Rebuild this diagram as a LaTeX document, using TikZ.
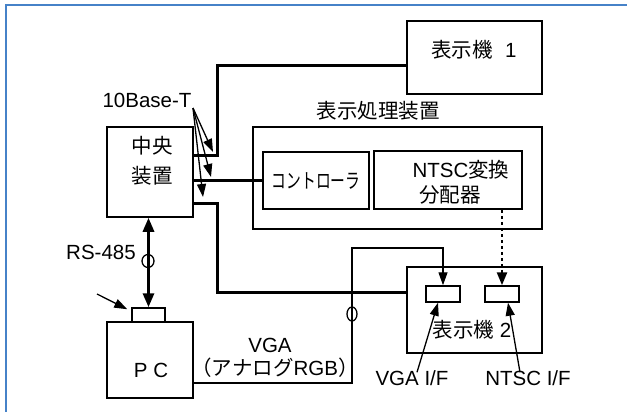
\documentclass[tikz,border=0pt]{standalone}
\usepackage{fontspec}
\setmainfont{Liberation Sans}
\newfontfamily\cjk{Noto Sans CJK JP}
\newcommand{\J}[1]{{\cjk #1}}
\usetikzlibrary{arrows.meta,calc,shapes.geometric}
\definecolor{framecol}{RGB}{70,130,200}
\begin{document}
\begin{tikzpicture}[x=1pt,y=-1pt,
  every node/.style={font=\fontsize{20.5}{25}\selectfont, inner sep=0pt},
  box/.style={draw, line width=1.5pt, inner sep=0pt},
  bus/.style={line width=3pt},
  cable/.style={line width=1.3pt},
  tipA/.style={-{Triangle[length=13pt,width=9pt]}},
  ring/.style={draw, ellipse, line width=1.3pt, inner sep=0pt}
]
\useasboundingbox (0,0) rectangle (627,412);
\draw[framecol, line width=2pt] (5.5,412) -- (5.5,5.5) -- (627,5.5);

% boxes
\node[box, minimum width=86pt, minimum height=90pt] (cpu) at (150,172) {};
\node[align=center, font=\fontsize{20.5}{30}\selectfont] (cputxt) at (152,161) {\J{中央}\\\J{装置}};
\node[box, minimum width=135pt, minimum height=73pt] (disp1) at (474.5,57.5) {};
\node (disp1txt) at (474,50) {\J{表示機}\hspace{0.6em}1};
\node[box, minimum width=289pt, minimum height=102pt] (proc) at (397.5,178) {};
\node (proctxt) at (378,111) {\J{表示処理装置}};
\node[box, minimum width=106pt, minimum height=57pt] (ctrl) at (316,180.5) {\scalebox{0.72}[1]{\J{コントローラ}}};
\node[box, minimum width=148pt, minimum height=58pt] (ntsc) at (448,180) {};
\node[align=center] (ntsctxt) at (450,182.5) {\hspace*{22pt}NTSC\J{変換}\\\J{分配器}};
\node[box, minimum width=135pt, minimum height=86pt] (disp2) at (474.5,310) {};
\node (disp2txt) at (472,330) {\J{表示機} 2};
\node[box, minimum width=34pt, minimum height=16pt] (vgaport) at (443,294) {};
\node[box, minimum width=34pt, minimum height=16pt] (ntscport) at (502,294) {};
\node[box, minimum width=86pt, minimum height=76pt] (pc) at (150,360) {};
\node (pctxt) at (151,370) {P C};
\node[box, minimum width=33pt, minimum height=14pt] (pcport) at (148.5,315) {};

% labels
\node (tenbase) at (147,100) {10Base-T};
\node (rs) at (101,252) {RS-485};
\node (vga) at (270,345) {VGA};
\node (analog) at (275,368) {\J{（アナログ}RGB\J{）}};
\node (vgaif) at (412,378) {VGA I/F};
\node (ntscif) at (528,378) {NTSC I/F};

% buses
\draw[bus] (cpu.east |- 0,155) -| (217,66) -- (disp1.west |- 0,66);
\draw[bus] (cpu.east |- ctrl.west) -- (ctrl.west);
\draw[bus] (cpu.east |- 0,203) -| (217,292) -- (disp2.west |- 0,292);
\draw[bus, {Triangle[length=14pt,width=11pt]}-{Triangle[length=14pt,width=11pt]}] (cpu.south -| pcport.north) -- (pcport.north);
\node[ring, minimum width=12pt, minimum height=13pt] (ring1) at (148,261) {};

% dotted NTSC
\draw[line width=2.5pt, dash pattern=on 3pt off 3pt, -{Triangle[length=13pt,width=10pt]}] (ntsc.south -| ntscport.north) -- (ntscport.north);

% VGA cable
\draw[cable, tipA] (pc.east |- 0,383) -| (352,248) -| (vgaport.north);
\node[ring, minimum width=10pt, minimum height=14pt] (ring2) at (352,314) {};

% 10Base-T pointers
\coordinate (tb) at (193,108);
\coordinate (t1) at (213,152);
\coordinate (t2) at (211,177);
\coordinate (t3) at (203,197);
\draw[cable, tipA] (tb) -- (t1);
\draw[cable, tipA] (tb) -- (t2);
\draw[cable, tipA] (tb) -- (t3);

% pointer to PC port
\coordinate (ptr) at (97,294);
\draw[cable, tipA] (ptr) -- ($(pcport.north west)+(-4,2)$);

% I/F pointers
\draw[cable, tipA] ($(vgaif.north)+(5,2)$) -- ($(vgaport.south)+(-5,0)$);
\draw[cable, tipA] ($(ntscif.north)+(-8,2)$) -- ($(ntscport.south)+(6,0)$);
\end{tikzpicture}
\end{document}
